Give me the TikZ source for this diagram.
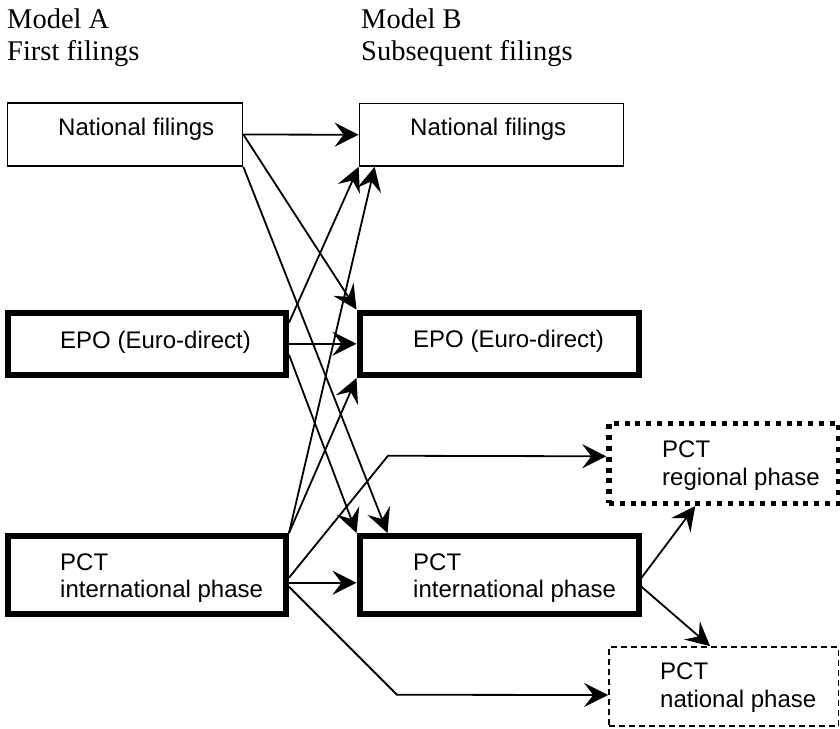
\documentclass[tikz,border=0pt]{standalone}
\usepackage{fontspec}
\setmainfont{Liberation Serif}
\newfontfamily\boxfont{Liberation Sans}
\usetikzlibrary{arrows.meta,calc}
\begin{document}
\begin{tikzpicture}[x=1pt,y=-1pt,
  titletext/.style={anchor=base west, inner sep=0pt, font=\fontsize{28.5}{32}\selectfont},
  lbl/.style={anchor=base west, inner sep=0pt, font=\boxfont\fontsize{24}{27}\selectfont},
  thinbox/.style={draw, line width=1.7pt, rectangle, inner sep=0pt},
  thickbox/.style={draw, line width=6pt, rectangle, inner sep=0pt},
  dotbox/.style={draw, line width=5.5pt, dash pattern=on 5pt off 5.8pt, rectangle, inner sep=0pt},
  dashbox/.style={draw, line width=1.7pt, dash pattern=on 6pt off 4pt, rectangle, inner sep=0pt},
  arr/.style={line width=1.8pt, -{Stealth[length=24pt,width=24pt,inset=9pt]}},
]
\useasboundingbox (0,0) rectangle (840,728);

% titles
\node[titletext] (ta1) at (7,28) {Model A};
\node[titletext] (ta2) at (7,60) {First filings};
\node[titletext] (tb1) at (361,28) {Model B};
\node[titletext] (tb2) at (361,60) {Subsequent filings};

% boxes
\node[thinbox, minimum width=235pt, minimum height=63pt] (a1) at (125,134.5) {};
\node[thinbox, minimum width=264pt, minimum height=62.5pt] (b1) at (491.5,134.75) {};
\node[thickbox, minimum width=278pt, minimum height=62.5pt] (a2) at (147,343.75) {};
\node[thickbox, minimum width=279pt, minimum height=62.5pt] (b2) at (499,343.75) {};
\node[thickbox, minimum width=278pt, minimum height=77.5pt] (a3) at (147,574.75) {};
\node[thickbox, minimum width=279pt, minimum height=77.5pt] (b3) at (499,574.75) {};
\node[dotbox, minimum width=229.5pt, minimum height=80pt] (rg) at (723.75,463.3) {};
\node[dashbox, minimum width=229.5pt, minimum height=79pt] (nt) at (723.75,686.5) {};

% labels
\node[lbl] (a1t) at (58,135) {National filings};
\node[lbl] (b1t) at (410,135) {National filings};
\node[lbl] (a2t) at (60,348) {EPO (Euro-direct)};
\node[lbl] (b2t) at (413,347.5) {EPO (Euro-direct)};
\node[lbl] (a3t1) at (60,570) {PCT};
\node[lbl] (a3t2) at (60,597) {international phase};
\node[lbl] (b3t1) at (413,570) {PCT};
\node[lbl] (b3t2) at (413,597) {international phase};
\node[lbl] (rgt1) at (662,457) {PCT};
\node[lbl] (rgt2) at (662,485) {regional phase};
\node[lbl] (ntt1) at (660,679) {PCT};
\node[lbl] (ntt2) at (660,707) {national phase};

% connectors
\draw[arr] (a1.east) -- (b1.west);
\draw[arr] (a1.east) -- (b2.north west);
\draw[arr] (a1.south east) -- ($(b3.north west)+(31,0)$);
\draw[arr] (a2.east) -- (b2.west);
\draw[arr] ($(a2.east)+(0,11)$) -- (b3.north west);
\draw[arr] ($(a2.east)+(0,-21)$) -- (b1.south west);
\draw[arr] (a3.north east) -- ($(b1.south west)+(16,0)$);
\draw[arr] (a3.north east) -- (b2.south west);
\draw[arr] ($(a3.east)+(0,8)$) -- ($(b3.west)+(0,8)$);
\draw[arr] ($(a3.east)+(0,3)$) -- ++(99,-122) -- ($(rg.west)+(0,-7)$);
\draw[arr] ($(a3.east)+(0,12)$) -- ++(108,108) -- ($(nt.west)+(0,8.5)$);
\draw[arr] ($(b3.east)+(0,3)$) -- ($(rg.south west)+(89,0)$);
\draw[arr] ($(b3.east)+(0,12)$) -- ($(nt.north west)+(102,0)$);
\end{tikzpicture}
\end{document}
